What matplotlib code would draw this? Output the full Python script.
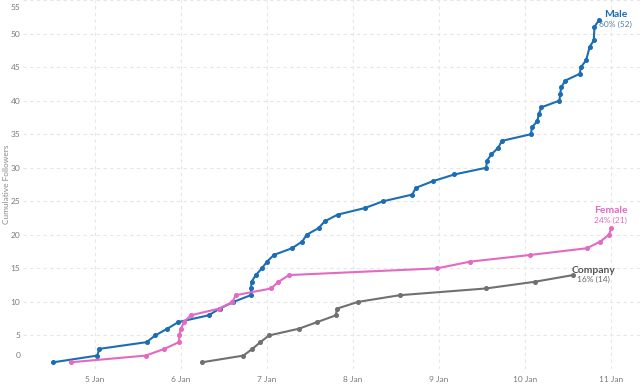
import matplotlib
matplotlib.use("Agg")
import matplotlib.pyplot as plt
from matplotlib.transforms import ScaledTranslation

# ---- data (day of January, cumulative count) ----
male_day = [4.515, 5.027, 5.05, 5.60, 5.70, 5.84, 5.97, 6.32, 6.45, 6.61,
            6.81, 6.815, 6.82, 6.87, 6.94, 7.0, 7.08, 7.29, 7.41, 7.46,
            7.60, 7.67, 7.82, 8.14, 8.35, 8.69, 8.73, 8.93, 9.18, 9.55,
            9.555, 9.61, 9.69, 9.73, 10.07, 10.08, 10.145, 10.16, 10.19, 10.40,
            10.41, 10.42, 10.47, 10.636, 10.65, 10.71, 10.752, 10.80, 10.807, 10.86]
male_count = [1, 2, 3, 4, 5, 6, 7, 8, 9, 10,
              11, 12, 13, 14, 15, 16, 17, 18, 19, 20,
              21, 22, 23, 24, 25, 26, 27, 28, 29, 30,
              31, 32, 33, 34, 35, 36, 37, 38, 39, 40,
              41, 42, 43, 44, 45, 46, 48, 49, 51, 52]

female_day = [4.717, 5.59, 5.807, 5.977, 5.98, 6.0, 6.035, 6.113, 6.442, 6.598,
              6.636, 7.047, 7.133, 7.256, 8.977, 9.36, 10.063, 10.72, 10.877, 10.975,
              11.005]
female_count = list(range(1, 22))

company_day = [6.244, 6.726, 6.83, 6.923, 7.023, 7.369, 7.586, 7.80, 7.814, 8.058,
               8.543, 9.543, 10.113, 10.558]
company_count = list(range(1, 15))

series_names = ["Male", "Female", "Company"]
series_share = ["60% (52)", "24% (21)", "16% (14)"]

xtick_days = [5, 6, 7, 8, 9, 10, 11]
xtick_labels = ["5 Jan", "6 Jan", "7 Jan", "8 Jan", "9 Jan", "10 Jan", "11 Jan"]
ytick_values = [0, 5, 10, 15, 20, 25, 30, 35, 40, 45, 50, 55]

# ---- styling ----
plt.rcParams['font.family'] = ['Lato', 'DejaVu Sans']
c_male = "#1b6db5"
c_female = "#e369c4"
c_company = "#707070"

fig = plt.figure(figsize=(6.4, 3.87), dpi=100)
ax = fig.add_axes([23 / 640, 1 - 369 / 387, 1 - 23 / 640, 369 / 387])

ax.plot(male_day, male_count, color=c_male, lw=1.5, marker="o", ms=2.6, zorder=3)
ax.plot(female_day, female_count, color=c_female, lw=1.5, marker="o", ms=2.6, zorder=3)
ax.plot(company_day, company_count, color=c_company, lw=1.5, marker="o", ms=2.6, zorder=3)

ax.set_xlim(4.163, 11.337)
ax.set_ylim(0, 55)

ax.set_xticks(xtick_days)
ax.set_xticklabels(xtick_labels)
ax.set_yticks(ytick_values)
ax.set_yticklabels([str(v) for v in ytick_values])

ax.tick_params(axis="both", length=0, colors="#7a7a7a", labelsize=6)
ax.tick_params(axis="x", pad=5)
ax.tick_params(axis="y", pad=2)

for s in ax.spines.values():
    s.set_visible(False)
ax.grid(True, color="#e6e6e6", lw=0.8, ls=(0, (3, 3)))
ax.set_axisbelow(True)

fig.text(7 / 640, 1 - 184 / 387, "Cumulative Followers", fontsize=6, color="#8a8a8a",
         rotation=90, ha="center", va="center")

# edge y tick labels pulled inside the plot height
ylabels = ax.get_yticklabels()
ylabels[0].set_transform(ylabels[0].get_transform() + ScaledTranslation(0, 14 / 100, fig.dpi_scale_trans))
ylabels[-1].set_transform(ylabels[-1].get_transform() + ScaledTranslation(0, -7 / 100, fig.dpi_scale_trans))

# end labels
ax.text(11.055, 52.9, series_names[0], color=c_male, fontsize=7.5, fontweight="bold", ha="center", va="center")
ax.text(11.055, 51.4, series_share[0], color="#4f7fae", fontsize=6, ha="center", va="center")
ax.text(10.995, 23.6, series_names[1], color=c_female, fontsize=7.5, fontweight="bold", ha="center", va="center")
ax.text(10.995, 22.2, series_share[1], color=c_female, fontsize=6, ha="center", va="center")
ax.text(10.80, 14.75, series_names[2], color="#555555", fontsize=7.5, fontweight="bold", ha="center", va="center")
ax.text(10.80, 13.3, series_share[2], color="#666666", fontsize=6, ha="center", va="center")

fig.savefig("out.png", dpi=100)
